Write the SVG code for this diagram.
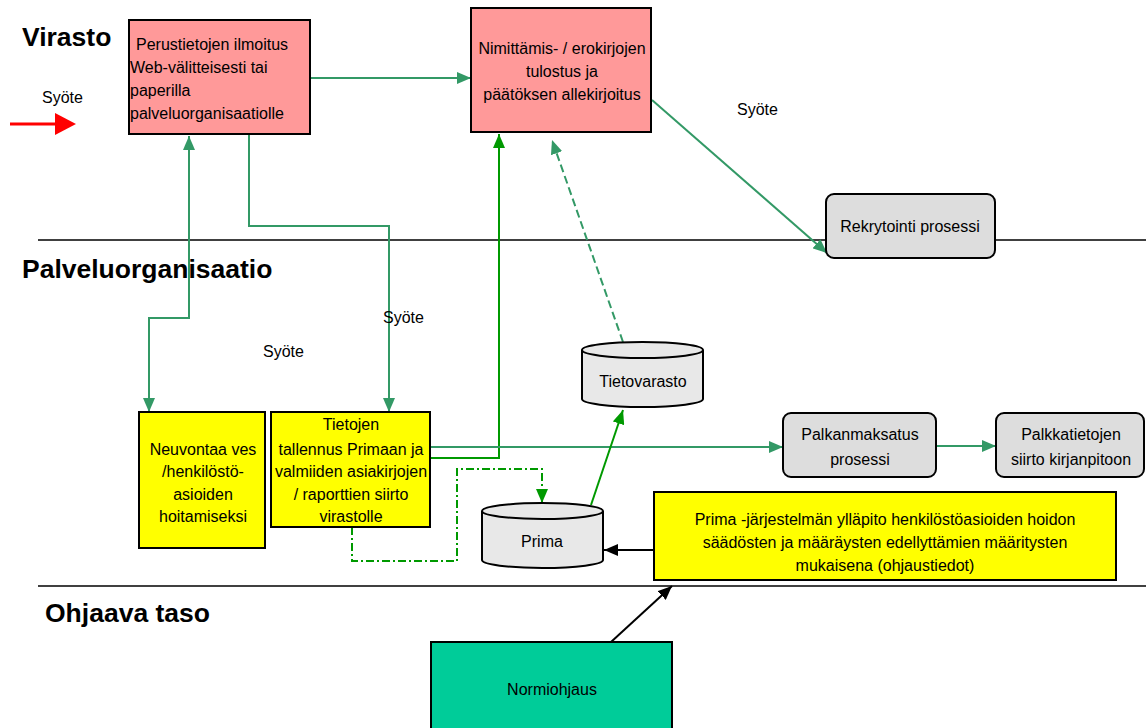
<svg xmlns="http://www.w3.org/2000/svg" width="1146" height="728" viewBox="0 0 1146 728">
<style>
text{font-family:"Liberation Sans",Arial,sans-serif;font-size:16px;fill:#000}
.lane{font-size:26.5px;font-weight:bold}
.c{text-anchor:middle}
.box{stroke:#000;stroke-width:2}
.pink{fill:#FF9999}
.yel{fill:#FFFF00}
.grey{fill:#DDDDDD}
.cyl{fill:#E8E8E8;stroke:#000;stroke-width:2}
.sep{stroke:#000;stroke-width:1.6}
.g{fill:none;stroke:#339966;stroke-width:2;marker-end:url(#ag)}
.gg{fill:none;stroke:#009900;stroke-width:2;marker-end:url(#agg)}
.k{fill:none;stroke:#000;stroke-width:2;marker-end:url(#ak)}
</style>
<defs>
<marker id="ag" markerUnits="userSpaceOnUse" markerWidth="14" markerHeight="12" refX="14" refY="6" orient="auto-start-reverse"><path d="M0,0 L14,6 L0,12 z" fill="#339966"/></marker>
<marker id="agg" markerUnits="userSpaceOnUse" markerWidth="14" markerHeight="12" refX="14" refY="6" orient="auto"><path d="M0,0 L14,6 L0,12 z" fill="#009900"/></marker>
<marker id="ak" markerUnits="userSpaceOnUse" markerWidth="14" markerHeight="12" refX="14" refY="6" orient="auto"><path d="M0,0 L14,6 L0,12 z" fill="#000"/></marker>
</defs>
<rect width="1146" height="728" fill="#fff"/>
<g id="lanes">
<line class="sep" x1="38" y1="240" x2="1146" y2="240"/>
<line class="sep" x1="38" y1="586" x2="1146" y2="586"/>
<text class="lane" x="22" y="46">Virasto</text>
<text class="lane" x="22" y="278">Palveluorganisaatio</text>
<text class="lane" x="45" y="622">Ohjaava taso</text>
</g>
<g id="connectors">
<line x1="10" y1="124" x2="56" y2="124" stroke="#FF0000" stroke-width="3"/>
<path d="M55,113 L76,124 L55,135 z" fill="#FF0000"/>
<path class="g" d="M310,78 H471"/>
<path class="g" d="M652,100 L827,253"/>
<path class="g" style="marker-start:url(#ag)" d="M189,136 V318 H149 V412"/>
<path class="g" d="M249,134 V226 H389 V412"/>
<path class="gg" d="M430,458 H499 V134"/>
<path class="g" d="M430,447 H783"/>
<path class="g" d="M936,446 H996"/>
<path class="g" stroke-dasharray="8 4" d="M623,342 L552,140"/>
<path class="gg" stroke-dasharray="8 3 2 3" stroke-width="2.5" d="M352,527 V561 H457 V469 H542 V503"/>
<path class="gg" d="M591,505 L623,410"/>
<path class="k" d="M654,550 H604"/>
<path class="k" d="M611,642 L672,586"/>
<text x="42" y="103">Syöte</text>
<text x="737" y="115">Syöte</text>
<text x="383" y="323">Syöte</text>
<text x="263" y="357">Syöte</text>
</g>
<g id="n-perustiedot">
<rect class="box pink" x="129" y="20" width="181" height="114"/>
<text x="136" y="50">Perustietojen ilmoitus</text>
<text x="130" y="73">Web-välitteisesti tai</text>
<text x="130" y="96">paperilla</text>
<text x="130" y="119">palveluorganisaatiolle</text>
</g>
<g id="n-nimittamis">
<rect class="box pink" x="471" y="8" width="180" height="124"/>
<text class="c" x="562" y="54">Nimittämis- / erokirjojen</text>
<text class="c" x="562" y="77">tulostus ja</text>
<text class="c" x="562" y="100">päätöksen allekirjoitus</text>
</g>
<g id="n-rekrytointi">
<rect class="box grey" x="826" y="194" width="169" height="64" rx="8"/>
<text class="c" x="910" y="232">Rekrytointi prosessi</text>
</g>
<g id="n-neuvontaa">
<rect class="box yel" x="139" y="412" width="126" height="136"/>
<text class="c" x="203" y="455">Neuvontaa ves</text>
<text class="c" x="203" y="477">/henkilöstö-</text>
<text class="c" x="203" y="500">asioiden</text>
<text class="c" x="203" y="522">hoitamiseksi</text>
</g>
<g id="n-tietojen">
<rect class="box yel" x="271" y="412" width="159" height="115"/>
<text class="c" x="351" y="430">Tietojen</text>
<text class="c" x="351" y="455">tallennus Primaan ja</text>
<text class="c" x="351" y="477">valmiiden asiakirjojen</text>
<text class="c" x="351" y="500">/ raporttien siirto</text>
<text class="c" x="351" y="522">virastolle</text>
</g>
<g id="n-tietovarasto">
<path class="cyl" d="M582,350 A60.5,8 0 0 1 703,350 V399 A60.5,8 0 0 1 582,399 Z"/>
<path d="M582,350 A60.5,8 0 0 0 703,350" fill="none" stroke="#000" stroke-width="2"/>
<text class="c" x="643" y="387">Tietovarasto</text>
</g>
<g id="n-prima">
<path class="cyl" d="M482,511 A60.5,8 0 0 1 603,511 V560 A60.5,8 0 0 1 482,560 Z"/>
<path d="M482,511 A60.5,8 0 0 0 603,511" fill="none" stroke="#000" stroke-width="2"/>
<text class="c" x="542" y="547">Prima</text>
</g>
<g id="n-palkanmaksatus">
<rect class="box grey" x="783" y="413" width="153" height="64" rx="8"/>
<text class="c" x="860" y="440">Palkanmaksatus</text>
<text class="c" x="860" y="465">prosessi</text>
</g>
<g id="n-palkkatietojen">
<rect class="box grey" x="996" y="413" width="148" height="64" rx="8"/>
<text class="c" x="1071" y="440">Palkkatietojen</text>
<text class="c" x="1071" y="465">siirto kirjanpitoon</text>
</g>
<g id="n-yllapito">
<rect class="box yel" x="654" y="492" width="462" height="88"/>
<text class="c" x="885" y="525">Prima -järjestelmän ylläpito henkilöstöasioiden hoidon</text>
<text class="c" x="885" y="548">säädösten ja määräysten edellyttämien määritysten</text>
<text class="c" x="885" y="571">mukaisena (ohjaustiedot)</text>
</g>
<g id="n-normiohjaus">
<rect class="box" fill="#00CC99" x="431" y="642" width="241" height="100"/>
<text class="c" x="552" y="695">Normiohjaus</text>
</g>
</svg>
